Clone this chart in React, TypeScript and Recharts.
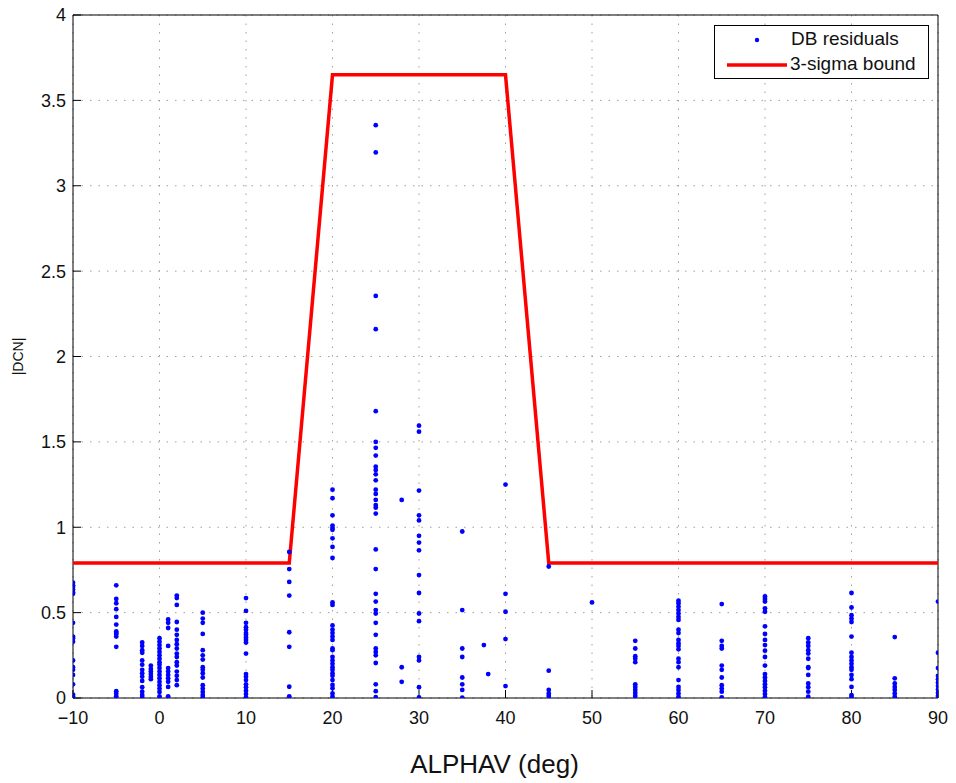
import React from 'react';
import {
  ComposedChart, Scatter, XAxis, YAxis, CartesianGrid, Legend,
} from 'recharts';

// residual columns: alpha (deg) -> |DCN| values
const resM10 = [0.675, 0.66, 0.65, 0.635, 0.62, 0.61, 0.44, 0.36, 0.35, 0.33, 0.22, 0.18, 0.165, 0.135, 0.08, 0.02, 0.01];
const resM5 = [0.66, 0.58, 0.555, 0.52, 0.475, 0.43, 0.39, 0.38, 0.375, 0.36, 0.3, 0.04, 0.025, 0.01];
const resM2 = [0.325, 0.305, 0.28, 0.265, 0.22, 0.195, 0.165, 0.145, 0.125, 0.1, 0.063, 0.037, 0.018, 0.005];
const resM1 = [0.19, 0.17, 0.155, 0.14, 0.125, 0.11];
const res0 = [0.35, 0.33, 0.31, 0.29, 0.27, 0.25, 0.23, 0.21, 0.195, 0.175, 0.155, 0.135, 0.115, 0.095, 0.075, 0.055, 0.035, 0.01];
const res1 = [0.46, 0.44, 0.41, 0.305, 0.175, 0.155, 0.135, 0.115, 0.095, 0.065, 0.01];
const res2 = [0.6, 0.585, 0.545, 0.445, 0.4, 0.37, 0.34, 0.315, 0.29, 0.26, 0.24, 0.21, 0.19, 0.155, 0.13, 0.105, 0.075];
const res5 = [0.5, 0.465, 0.44, 0.375, 0.28, 0.25, 0.225, 0.18, 0.165, 0.145, 0.12, 0.075, 0.055, 0.035, 0.017, 0.005];
const res10 = [0.585, 0.51, 0.44, 0.415, 0.4, 0.38, 0.37, 0.355, 0.34, 0.325, 0.26, 0.14, 0.125, 0.105, 0.08, 0.063, 0.043, 0.023, 0.004];
const res15 = [0.855, 0.755, 0.68, 0.6, 0.385, 0.3, 0.066, 0.01];
const res20 = [1.22, 1.17, 1.07, 1.01, 0.995, 0.985, 0.935, 0.885, 0.82, 0.56, 0.545, 0.425, 0.4, 0.38, 0.36, 0.34, 0.29, 0.28, 0.24, 0.22, 0.2, 0.18, 0.165, 0.145, 0.13, 0.105, 0.076, 0.057, 0.027, 0.008];
const res25 = [3.355, 3.195, 2.355, 2.16, 1.68, 1.5, 1.465, 1.42, 1.355, 1.335, 1.31, 1.275, 1.22, 1.195, 1.16, 1.13, 1.115, 1.08, 0.87, 0.755, 0.61, 0.565, 0.515, 0.495, 0.44, 0.37, 0.29, 0.27, 0.25, 0.205, 0.08, 0.04, 0.005];
const res28 = [1.16, 0.18, 0.095];
const res30 = [1.595, 1.56, 1.215, 1.07, 1.04, 0.95, 0.91, 0.865, 0.72, 0.615, 0.495, 0.45, 0.24, 0.22, 0.063, 0.004];
const res35 = [0.975, 0.515, 0.29, 0.24, 0.12, 0.08, 0.047, 0.002];
const res37 = [0.31];
const res38 = [0.14];
const res40 = [1.25, 0.61, 0.505, 0.345, 0.07];
const res45 = [0.77, 0.16, 0.047, 0.027, 0.012];
const res50 = [0.56];
const res55 = [0.335, 0.29, 0.245, 0.23, 0.21, 0.08, 0.065, 0.047, 0.03, 0.012];
const res60 = [0.57, 0.555, 0.535, 0.515, 0.495, 0.475, 0.457, 0.4, 0.38, 0.34, 0.32, 0.305, 0.285, 0.23, 0.21, 0.18, 0.105, 0.065, 0.047, 0.027, 0.008];
const res65 = [0.55, 0.335, 0.305, 0.29, 0.19, 0.165, 0.12, 0.075, 0.055, 0.037, 0.004];
const res70 = [0.595, 0.58, 0.565, 0.525, 0.505, 0.42, 0.375, 0.34, 0.31, 0.277, 0.24, 0.19, 0.14, 0.12, 0.1, 0.08, 0.063, 0.043, 0.023, 0.004];
const res75 = [0.35, 0.325, 0.305, 0.28, 0.26, 0.23, 0.18, 0.175, 0.135, 0.085, 0.063, 0.037, 0.008];
const res80 = [0.615, 0.53, 0.485, 0.465, 0.445, 0.36, 0.265, 0.24, 0.22, 0.2, 0.18, 0.165, 0.135, 0.11, 0.065, 0.017, 0.008];
const res85 = [0.357, 0.115, 0.085, 0.065, 0.047, 0.027, 0.008];
const res90 = [0.565, 0.265, 0.175, 0.13, 0.11, 0.09, 0.07, 0.05, 0.03, 0.012];

const columnAlpha = [-10, -5, -2, -1, 0, 1, 2, 5, 10, 15, 20, 25, 28, 30, 35, 37.5, 38, 40, 45, 50, 55, 60, 65, 70, 75, 80, 85, 90];
const columnValues = [resM10, resM5, resM2, resM1, res0, res1, res2, res5, res10, res15, res20, res25, res28, res30, res35, res37, res38, res40, res45, res50, res55, res60, res65, res70, res75, res80, res85, res90];

// 3-sigma bound corners
const boundAlpha = [-10, 15, 20, 40, 45, 90];
const boundDcn = [0.79, 0.79, 3.65, 3.65, 0.79, 0.79];

const xTicks = [-10, 0, 10, 20, 30, 40, 50, 60, 70, 80, 90];
const yTicks = [0, 0.5, 1, 1.5, 2, 2.5, 3, 3.5, 4];

const residuals = columnAlpha.flatMap((a, i) => columnValues[i].map((v) => ({ x: a, y: v })));
const bound = boundAlpha.map((a, i) => ({ x: a, y: boundDcn[i] }));

const font = 'Liberation Sans, Arial, Helvetica, sans-serif';

const fmtX = (v: number) => (v < 0 ? '\u2212' + Math.abs(v) : String(v));

function LegendBox() {
  return (
    <div style={{
      width: 215, height: 54, boxSizing: 'border-box', border: '1px solid #000',
      background: '#fff', position: 'relative', fontFamily: font, fontSize: 19, color: '#111',
    }}>
      <svg width={80} height={54} style={{ position: 'absolute', left: 0, top: 0 }}>
        <circle cx={42} cy={14} r={2.2} fill="#0000ff" />
        <line x1={12} x2={72} y1={39} y2={39} stroke="#ff0000" strokeWidth={3.5} />
      </svg>
      <div style={{ position: 'absolute', left: 76, top: 2, whiteSpace: 'nowrap' }}>DB residuals</div>
      <div style={{ position: 'absolute', left: 75, top: 27, whiteSpace: 'nowrap' }}>3-sigma bound</div>
    </div>
  );
}

const Dot = (p: any) => <circle cx={p.cx} cy={p.cy} r={2.4} fill="#0000ff" />;
const NoDot = () => <g />;

export default function App() {
  return (
    <div style={{ position: 'absolute', left: 0, top: 0, width: 956, height: 783, background: '#fff' }}>
      <ComposedChart
        width={956}
        height={783}
        margin={{ top: 14, right: 17, bottom: 0, left: 0 }}
        style={{ fontFamily: font }}
      >
        <CartesianGrid stroke="#a0a0a0" strokeDasharray="1.5 7" />
        <XAxis
          xAxisId={0}
          dataKey="x"
          type="number"
          domain={[-10, 90]}
          ticks={xTicks}
          allowDataOverflow
          height={85}
          stroke="#000"
          tickSize={-8}
          tickMargin={21}
          tickFormatter={fmtX}
          tick={{ fontSize: 18, fill: '#111' }}
          label={{ value: 'ALPHAV (deg)', position: 'insideBottom', offset: 10, dx: -11, fontSize: 26, fill: '#111' }}
        />
        <XAxis
          xAxisId="top"
          orientation="top"
          dataKey="x"
          type="number"
          domain={[-10, 90]}
          ticks={xTicks}
          height={1}
          stroke="#000"
          tickSize={-8}
          tick={false}
        />
        <YAxis
          yAxisId={0}
          dataKey="y"
          type="number"
          domain={[0, 4]}
          ticks={yTicks}
          allowDataOverflow
          width={73}
          stroke="#000"
          tickSize={-8}
          tickMargin={15}
          tick={{ fontSize: 18, fill: '#111' }}
          label={{ value: '|DCN|', angle: -90, position: 'insideLeft', offset: 18, fontSize: 14, fill: '#111', style: { textAnchor: 'middle' } }}
        />
        <YAxis
          yAxisId="right"
          orientation="right"
          dataKey="y"
          type="number"
          domain={[0, 4]}
          ticks={yTicks}
          width={1}
          stroke="#000"
          tickSize={-8}
          tick={false}
        />
        <Legend
          layout="vertical"
          align="center"
          verticalAlign="middle"
          content={() => <LegendBox />}
          wrapperStyle={{ left: 714, top: 25, width: 215, height: 54 }}
        />
        <Scatter
          name="3-sigma bound"
          data={bound}
          dataKey="y"
          xAxisId={0}
          yAxisId={0}
          line={{ stroke: '#ff0000', strokeWidth: 3.5 }}
          shape={NoDot}
          isAnimationActive={false}
        />
        <Scatter
          name="DB residuals"
          data={residuals}
          dataKey="y"
          xAxisId={0}
          yAxisId={0}
          shape={Dot}
          isAnimationActive={false}
        />
      </ComposedChart>
    </div>
  );
}
